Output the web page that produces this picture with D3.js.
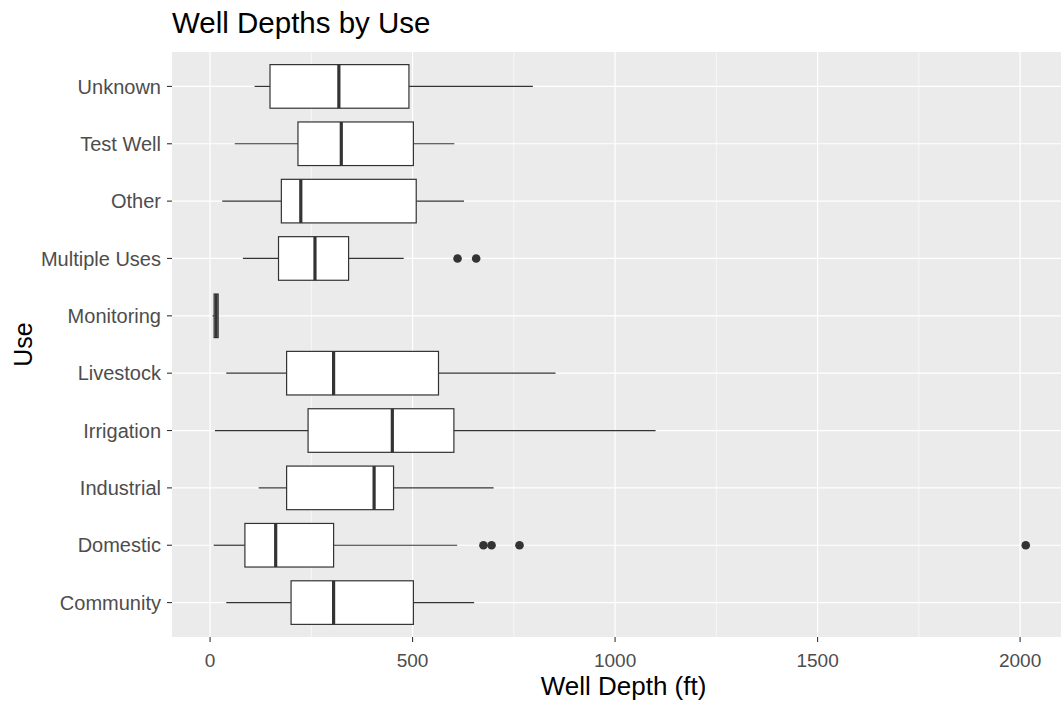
<!DOCTYPE html>
<html><head><meta charset="utf-8">
<script src="https://cdn.jsdelivr.net/npm/d3@7"></script>
<style>body{margin:0;background:#fff;}text{font-family:"Liberation Sans",Arial,sans-serif;}</style>
</head><body>
<svg id="c" width="1061" height="706"></svg>
<script>
const categories = ["Community","Domestic","Industrial","Irrigation","Livestock","Monitoring","Multiple Uses","Other","Test Well","Unknown"];
const whiskerLow  = [40, 9, 120, 12, 40, 6, 81, 30, 61, 110];
const q1          = [200, 86, 189, 242, 189, 10, 169, 176, 217, 148];
const median      = [305, 162, 405, 450, 305, 15, 259, 224, 324, 318];
const q3          = [502, 305, 453, 602, 564, 20, 342, 509, 502, 491];
const whiskerHigh = [652, 610, 700, 1100, 853, 20, 478, 627, 603, 797];
const outliers    = [[], [675, 695, 764, 2014], [], [], [], [], [611, 657], [], [], []];
const xTicks = [0, 500, 1000, 1500, 2000];
const xMinor = [250, 750, 1250, 1750];

const svg = d3.select("#c");
const P = {l:172, r:1061, t:52, b:637};
const x = d3.scaleLinear().domain([-94, 2101]).range([P.l, P.r]);
const y = d3.scalePoint().domain(categories).range([P.b, P.t]).padding(0.6);
const step = y.step();
const boxH = step*0.76;

svg.append("rect").attr("x",P.l).attr("y",P.t).attr("width",P.r-P.l).attr("height",P.b-P.t).attr("fill","#EBEBEB");
const g = svg.append("g");
xMinor.forEach(v=>g.append("line").attr("x1",x(v)).attr("x2",x(v)).attr("y1",P.t).attr("y2",P.b).attr("stroke","#fff").attr("stroke-width",0.6));
xTicks.forEach(v=>g.append("line").attr("x1",x(v)).attr("x2",x(v)).attr("y1",P.t).attr("y2",P.b).attr("stroke","#fff").attr("stroke-width",1.2));
categories.forEach(c=>g.append("line").attr("x1",P.l).attr("x2",P.r).attr("y1",y(c)).attr("y2",y(c)).attr("stroke","#fff").attr("stroke-width",1.2));

const col = "#333333";
categories.forEach((c,i)=>{
  const cy = y(c);
  g.append("line").attr("x1",x(whiskerLow[i])).attr("x2",x(q1[i])).attr("y1",cy).attr("y2",cy).attr("stroke",col).attr("stroke-width",1.2);
  g.append("line").attr("x1",x(q3[i])).attr("x2",x(whiskerHigh[i])).attr("y1",cy).attr("y2",cy).attr("stroke",col).attr("stroke-width",1.2);
  g.append("rect").attr("x",x(q1[i])).attr("y",cy-boxH/2).attr("width",Math.max(0,x(q3[i])-x(q1[i]))).attr("height",boxH)
    .attr("fill","#fff").attr("stroke",col).attr("stroke-width",1.2);
  g.append("line").attr("x1",x(median[i])).attr("x2",x(median[i])).attr("y1",cy-boxH/2).attr("y2",cy+boxH/2).attr("stroke",col).attr("stroke-width",3.2);
  outliers[i].forEach(v=>g.append("circle").attr("cx",x(v)).attr("cy",cy).attr("r",4.3).attr("fill",col));
});

const axc = "#333333", labc = "#4D4D4D";
categories.forEach(c=>{
  svg.append("line").attr("x1",P.l-5).attr("x2",P.l).attr("y1",y(c)).attr("y2",y(c)).attr("stroke",axc).attr("stroke-width",1.1);
  svg.append("text").attr("x",P.l-11).attr("y",y(c)).attr("dy","0.36em").attr("text-anchor","end").attr("font-size",20).attr("fill",labc).text(c);
});
xTicks.forEach(v=>{
  svg.append("line").attr("x1",x(v)).attr("x2",x(v)).attr("y1",P.b).attr("y2",P.b+5).attr("stroke",axc).attr("stroke-width",1.1);
  svg.append("text").attr("x",x(v)).attr("y",667).attr("text-anchor","middle").attr("font-size",19).attr("fill",labc).text(d3.format("d")(v));
});
svg.append("text").attr("x",(P.l+P.r)/2 + 7).attr("y",695).attr("text-anchor","middle").attr("font-size",26).attr("fill","#000").text("Well Depth (ft)");
svg.append("text").attr("transform",`translate(32,${(P.t+P.b)/2}) rotate(-90)`).attr("text-anchor","middle").attr("font-size",25).attr("fill","#000").text("Use");
svg.append("text").attr("x",P.l).attr("y",33).attr("font-size",29.5).attr("fill","#000").text("Well Depths by Use");
</script>
</body></html>
